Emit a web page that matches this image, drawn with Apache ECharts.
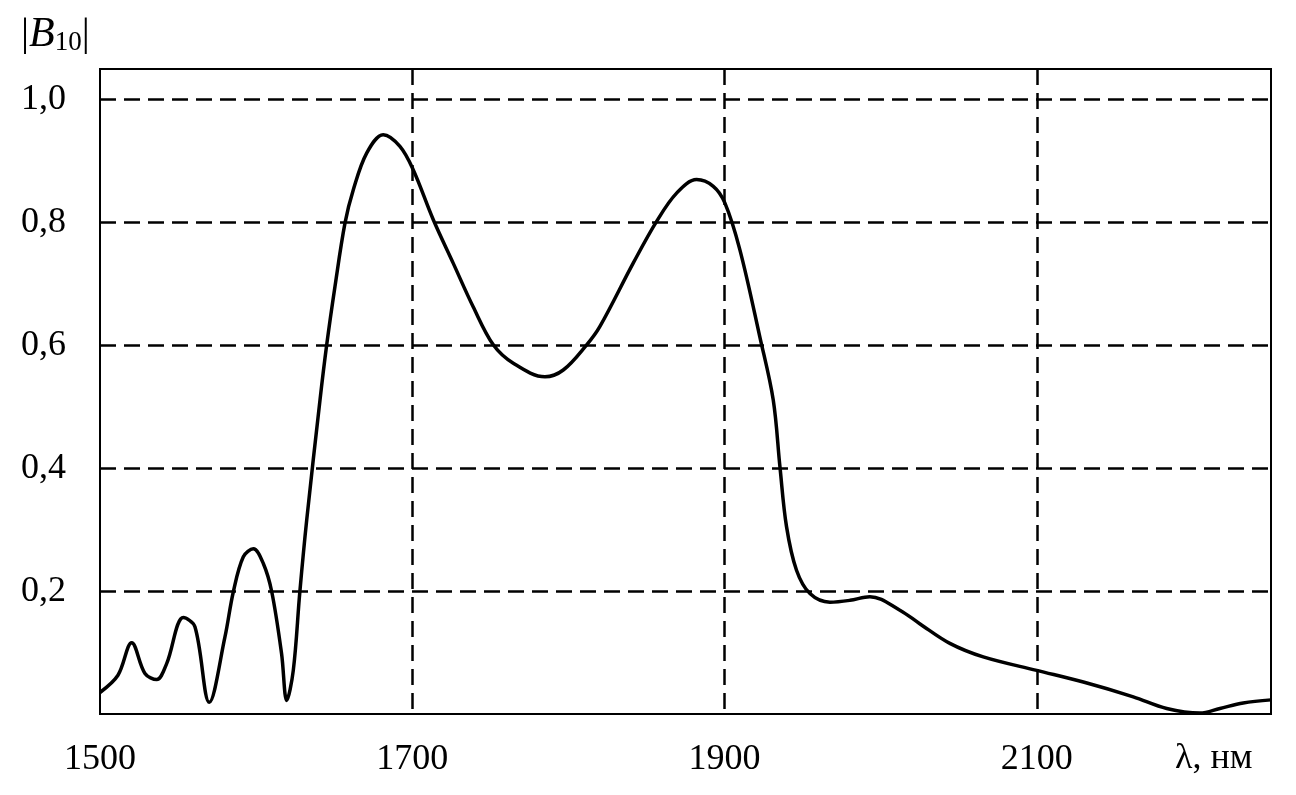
<!DOCTYPE html>
<html>
<head>
<meta charset="utf-8">
<script src="https://cdn.jsdelivr.net/npm/echarts@6/dist/echarts.min.js"></script>
<style>html,body{margin:0;padding:0;background:#fff;}#c{width:1296px;height:795px;}</style>
</head>
<body>
<div id="c"></div>
<script>
const wavelengths = [1500,1511.5,1520.3,1528.8,1536.3,1542.7,1553.4,1560.8,1570,1580,1585.4,1591.8,1598.2,1604.6,1610,1616.3,1619.6,1623.8,1628,1632.4,1640.9,1645.2,1650.5,1656.9,1662.2,1670.8,1681.4,1692.1,1700.6,1713.4,1726.2,1739,1751.9,1764.7,1785,1796.7,1811.7,1820.2,1841.5,1856.5,1869.3,1882.1,1892.8,1900.2,1909.8,1922.6,1931.2,1935.5,1939.7,1946.1,1954.7,1967.5,1980.3,1993.1,2012.3,2025,2044.3,2065.7,2099.9,2129.8,2161.8,2183.2,2204.5,2217.3,2232.2,2250];
const b10 = [0.035,0.063,0.116,0.066,0.056,0.082,0.157,0.142,0.019,0.125,0.199,0.256,0.269,0.245,0.199,0.098,0.022,0.071,0.199,0.316,0.511,0.601,0.696,0.799,0.853,0.913,0.943,0.924,0.886,0.805,0.734,0.663,0.601,0.571,0.549,0.560,0.601,0.631,0.734,0.802,0.848,0.870,0.859,0.832,0.756,0.614,0.511,0.402,0.305,0.234,0.196,0.182,0.185,0.191,0.169,0.147,0.115,0.093,0.071,0.052,0.028,0.009,0.0015,0.009,0.018,0.023];
const xTicks = [1500,1700,1900,2100];
const yTicks = [0.2,0.4,0.6,0.8,1.0];
const xName = 'λ, нм';

const chart = echarts.init(document.getElementById('c'), null, {renderer:'canvas'});
const serif = '"Liberation Serif","DejaVu Serif",serif';
const dashed = {type:[16,8], color:'#000', width:2.5};
chart.setOption({
  animation:false,
  backgroundColor:'#fff',
  title:{
    left:16, top:8,
    text:'{bar||}{b|B}{sub|10}{bar||}',
    textStyle:{
      fontWeight:'normal',
      rich:{
        bar:{fontFamily:serif, fontSize:40, fontWeight:'normal', color:'#000'},
        b:{fontFamily:serif, fontSize:42, fontStyle:'italic', fontWeight:'normal', color:'#000'},
        sub:{fontFamily:serif, fontSize:27, fontWeight:'normal', color:'#000', verticalAlign:'bottom', padding:[16,0,0,0]}
      }
    }
  },
  grid:{left:100, right:25, top:69, bottom:81, show:true, borderColor:'#000', borderWidth:2, containLabel:false},
  xAxis:{
    type:'value', min:1500, max:2250, interval:200,
    axisLine:{show:true, onZero:false, lineStyle:{color:'#000', width:2}},
    axisTick:{show:false},
    splitLine:{show:true, showMinLine:false, showMaxLine:false, lineStyle:dashed},
    axisLabel:{
      showMaxLabel:false, margin:28, color:'#000', fontFamily:serif, fontSize:36,
      formatter:v => xTicks.includes(v) ? String(v) : ''
    }
  },
  yAxis:{
    type:'value', min:0, max:1.05, interval:0.2,
    axisLine:{show:true, lineStyle:{color:'#000', width:2}},
    axisTick:{show:false},
    splitLine:{show:true, showMinLine:false, showMaxLine:false, lineStyle:dashed},
    axisLabel:{
      showMaxLabel:false, margin:34, color:'#000', fontFamily:serif, fontSize:36,
      formatter:v => {
        const t = yTicks.find(k => Math.abs(k - v) < 1e-6);
        return t === undefined ? '' : t.toFixed(1).replace('.', ',');
      }
    }
  },
  graphic:[{
    type:'text', left:1175, top:741,
    style:{text:xName, fontFamily:serif, fontSize:36, fill:'#000'}
  }],
  series:[{
    type:'line', smooth:0.35, showSymbol:false, clip:false,
    lineStyle:{color:'#000', width:3.5},
    data: wavelengths.map((w,i) => [w, b10[i]])
  }]
});
</script>
</body>
</html>
